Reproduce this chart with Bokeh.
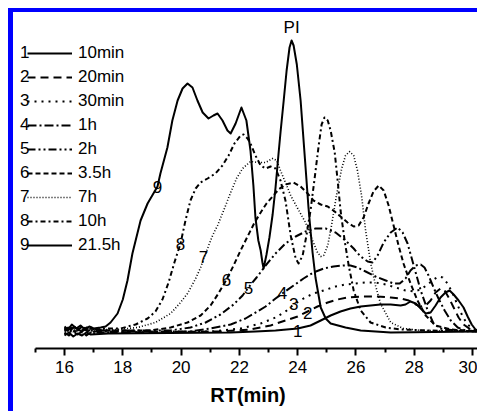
from bokeh.plotting import figure
from bokeh.models import Range1d, FixedTicker, Legend, LegendItem
from bokeh.core.properties import value
from bokeh.embed import file_html
from bokeh.resources import INLINE

# ---- data: (retention time [min], detector signal [a.u.]) ----
curve1 = [(16.00,-3),(16.15,0),(16.30,-4),(16.45,-1),(16.60,-3),(16.75,0),(16.90,-2),(17.50,-1),(21.70,0),(22.55,1),(23.24,2),(24.00,4),(24.44,7),(24.79,12),(25.13,17),(25.47,21),(25.81,24),(26.16,26),(26.50,27),(26.84,28),(27.19,28),(27.53,27),(27.70,28),(27.87,31),(28.05,29),(28.22,24),(28.39,19),(28.56,20),(28.73,27),(28.90,35),(29.07,40),(29.21,42),(29.35,38),(29.52,32),(29.69,25),(29.83,16),(29.97,8),(30.10,3),(30.34,1)]
curve2 = [(16.00,0),(16.15,-3),(16.30,1),(16.45,-2),(16.60,1),(16.75,-3),(16.90,0),(17.50,0),(21.35,1),(22.38,3),(23.07,7),(23.58,12),(24.00,16),(24.34,21),(24.68,26),(25.03,30),(25.37,33),(25.71,35),(26.16,36),(26.67,36),(27.19,35),(27.53,34),(27.81,32),(28.05,28),(28.22,26),(28.39,27),(28.56,32),(28.73,40),(28.90,44),(29.04,42),(29.18,35),(29.35,25),(29.52,15),(29.69,8),(29.93,3),(30.34,1)]
curve3 = [(16.00,-2),(16.15,2),(16.30,-1),(16.45,3),(16.60,0),(16.75,2),(16.90,-1),(17.50,0),(21.01,1),(22.04,4),(22.73,9),(23.24,15),(23.58,21),(23.86,28),(24.20,34),(24.54,39),(24.89,42),(25.30,46),(25.64,48),(25.99,49),(26.33,50),(26.67,50),(27.02,48),(27.36,45),(27.70,42),(27.98,41),(28.22,43),(28.46,48),(28.66,53),(28.83,56),(28.97,55),(29.14,49),(29.32,39),(29.49,27),(29.66,16),(29.83,8),(30.04,3),(30.34,1)]
curve4 = [(16.00,1),(16.15,4),(16.30,0),(16.45,3),(16.60,1),(16.75,4),(16.90,1),(17.50,1),(20.32,1),(21.01,4),(21.70,8),(22.21,14),(22.62,21),(22.90,26),(23.24,34),(23.52,40),(23.86,47),(24.20,54),(24.54,60),(24.89,64),(25.23,66),(25.57,67),(25.81,67),(26.05,65),(26.33,61),(26.67,56),(27.02,52),(27.29,49),(27.50,49),(27.70,54),(27.87,62),(28.05,67),(28.22,68),(28.35,65),(28.49,57),(28.66,45),(28.83,34),(29.04,22),(29.25,12),(29.49,5),(29.76,2),(30.34,1)]
curve5 = [(16.00,2),(16.15,5),(16.30,1),(16.45,4),(16.60,2),(16.75,5),(16.90,2),(17.50,2),(19.64,2),(20.32,5),(20.84,10),(21.35,18),(21.80,28),(22.11,37),(22.31,45),(22.59,55),(22.90,67),(23.24,79),(23.58,89),(23.93,96),(24.27,101),(24.61,104),(24.96,104),(25.30,100),(25.64,92),(25.92,84),(26.16,76),(26.40,71),(26.57,70),(26.74,77),(26.95,90),(27.19,100),(27.43,105),(27.60,100),(27.77,89),(27.98,67),(28.22,42),(28.46,22),(28.66,9),(28.90,4),(29.42,2),(30.34,1)]
curve6 = [(16.00,4),(16.15,1),(16.30,5),(16.45,2),(16.60,6),(16.75,2),(16.90,4),(17.30,2),(18.95,2),(19.64,5),(20.22,10),(20.67,17),(21.01,27),(21.28,39),(21.56,53),(21.80,67),(22.04,82),(22.28,96),(22.52,110),(22.73,120),(22.93,129),(23.14,136),(23.34,143),(23.58,148),(23.86,150),(24.10,146),(24.34,139),(24.54,132),(24.79,128),(25.03,126),(25.27,121),(25.47,116),(25.71,110),(25.92,106),(26.09,107),(26.26,115),(26.43,129),(26.60,141),(26.78,147),(26.95,142),(27.12,127),(27.29,107),(27.46,87),(27.63,69),(27.87,49),(28.11,32),(28.39,17),(28.73,7),(29.25,3),(30.34,1)]
curve7 = [(16.00,3),(16.15,6),(16.30,2),(16.45,5),(16.60,3),(16.75,6),(16.90,2),(17.20,3),(17.80,3),(18.51,5),(19.12,10),(19.64,19),(19.98,30),(20.22,39),(20.50,54),(20.67,65),(20.84,79),(21.08,97),(21.25,107),(21.46,122),(21.70,140),(21.90,154),(22.11,164),(22.38,171),(22.66,170),(22.90,170),(23.14,174),(23.28,172),(23.41,162),(23.55,152),(23.76,137),(24.00,124),(24.27,110),(24.51,92),(24.68,80),(24.79,76),(24.89,77),(25.03,87),(25.16,107),(25.33,137),(25.51,164),(25.64,177),(25.78,181),(25.92,177),(26.05,162),(26.19,137),(26.33,102),(26.50,70),(26.67,47),(26.84,29),(27.19,10),(27.63,4),(28.22,2),(30.34,1)]
curve8 = [(16.00,5),(16.15,2),(16.30,7),(16.45,3),(16.60,6),(16.75,2),(16.90,5),(17.10,3),(17.40,4),(17.92,4),(18.44,8),(18.85,14),(19.12,21),(19.36,33),(19.57,50),(19.77,70),(19.98,89),(20.15,112),(20.32,132),(20.50,144),(20.67,150),(20.91,154),(21.18,159),(21.42,167),(21.63,177),(21.83,189),(22.04,197),(22.14,198),(22.28,194),(22.38,189),(22.55,177),(22.73,167),(22.90,164),(23.07,166),(23.24,164),(23.41,152),(23.58,132),(23.76,97),(23.93,74),(24.03,69),(24.17,77),(24.30,97),(24.44,122),(24.58,154),(24.72,187),(24.82,208),(24.92,215),(25.03,212),(25.13,202),(25.27,180),(25.37,152),(25.47,122),(25.61,92),(25.75,67),(25.92,42),(26.16,22),(26.50,10),(27.02,5),(27.53,3),(28.56,2),(30.34,1)]
curve9 = [(16.00,6),(16.12,3),(16.25,8),(16.40,4),(16.55,7),(16.70,3),(16.85,6),(17.00,4),(17.24,5),(17.41,6),(17.58,10),(17.82,19),(18.00,33),(18.16,52),(18.33,79),(18.61,112),(18.85,129),(19.19,146),(19.29,159),(19.53,185),(19.70,212),(19.88,232),(20.05,244),(20.22,249),(20.39,245),(20.56,232),(20.74,220),(20.94,214),(21.11,217),(21.25,219),(21.42,212),(21.59,202),(21.70,199),(21.87,209),(22.07,225),(22.24,212),(22.38,182),(22.48,147),(22.55,115),(22.65,92),(22.73,82),(22.79,70),(22.83,64),(22.93,78),(23.03,95),(23.14,118),(23.24,145),(23.34,178),(23.41,200),(23.52,232),(23.62,262),(23.72,285),(23.79,292),(23.86,287),(23.97,268),(24.10,232),(24.27,165),(24.37,125),(24.44,102),(24.51,80),(24.61,55),(24.79,25),(24.96,14),(25.13,9),(25.64,5),(26.16,2),(27.19,0),(30.34,1)]

curve_numbers = ["1", "2", "3", "4", "5", "6", "7", "8", "9"]
curve_names = ["10min", "20min", "30min", "1h", "2h", "3.5h", "7h", "10h", "21.5h"]
label_rt = [24.00, 24.34, 23.86, 23.48, 22.31, 21.56, 20.77, 19.98, 19.19]
label_y = [2, 20, 29, 40, 45, 53, 76, 89, 146]
peak_label = ["PI"]
peak_label_rt = [23.79]
peak_label_y = [305]
major_ticks = [16, 18, 20, 22, 24, 26, 28, 30]
minor_ticks = [15, 17, 19, 21, 23, 25, 27, 29]

curves = [curve1, curve2, curve3, curve4, curve5, curve6, curve7, curve8, curve9]
dashes = ["solid", "8 5", "2 5", "9 3 2 3", "8 3 2 3 2 3", "5 3", "1 2", "5 3 2 3", "solid"]
widths = [2, 2, 2, 2, 2, 2, 1.6, 2, 2]

FONT = "Liberation Sans"

p = figure(width=469, height=403, output_backend="svg", toolbar_location=None,
           x_range=Range1d(14.25, 30.34), y_range=Range1d(-16, 316),
           min_border_left=0, min_border_right=0, min_border_top=4, min_border_bottom=67)
p.styles = {"border-left": "5px solid #0000ff", "border-top": "4px solid #0000ff",
            "margin-left": "8px", "margin-top": "8px"}
p.outline_line_color = None
p.grid.visible = False
p.yaxis.visible = False
p.background_fill_color = "white"
p.border_fill_color = "white"

ax = p.xaxis[0]
ax.ticker = FixedTicker(ticks=major_ticks, minor_ticks=minor_ticks)
ax.bounds = (15, 30.34)
ax.axis_line_width = 2
ax.major_tick_line_width = 2
ax.minor_tick_line_width = 2
ax.major_tick_in = 0
ax.major_tick_out = 7
ax.minor_tick_in = 0
ax.minor_tick_out = 4
ax.major_label_text_font = FONT
ax.major_label_text_font_size = "17px"
ax.major_label_text_color = "black"
ax.major_label_standoff = 5
ax.axis_label = "RT(min)"
ax.axis_label_text_font = FONT
ax.axis_label_text_font_style = "bold"
ax.axis_label_text_font_size = "20px"
ax.axis_label_text_color = "black"
ax.axis_label_standoff = 8

renderers = []
for data, dash, w in zip(curves, dashes, widths):
    xs = [d[0] for d in data]
    ys = [d[1] for d in data]
    r = p.line(xs, ys, line_color="black", line_width=w, line_dash=dash,
               line_join="round")
    renderers.append(r)

p.text(x=label_rt, y=label_y, text=curve_numbers, text_font=value(FONT),
       text_font_size="17px", text_align="center", text_baseline="middle",
       text_color="black")
p.text(x=peak_label_rt, y=peak_label_y, text=peak_label, text_font=value(FONT),
       text_font_size="17px", text_align="center", text_baseline="middle",
       text_color="black")

dummy = p.line([16], [0], line_alpha=0)

common = dict(orientation="vertical", glyph_height=20, label_height=20, spacing=4,
              padding=0, margin=0, border_line_color=None, background_fill_alpha=0,
              label_text_font=FONT, label_text_font_size="17px", label_text_color="black")

num_legend = Legend(items=[LegendItem(label=n, renderers=[dummy]) for n in curve_numbers],
                    location=(7, 93), glyph_width=0, label_standoff=0, **common)
line_legend = Legend(items=[LegendItem(label=n, renderers=[r]) for n, r in zip(curve_names, renderers)],
                     location=(14, 93), glyph_width=45, label_standoff=6, **common)
p.add_layout(num_legend)
p.add_layout(line_legend)

open("out.html", "w").write(file_html(p, INLINE))
